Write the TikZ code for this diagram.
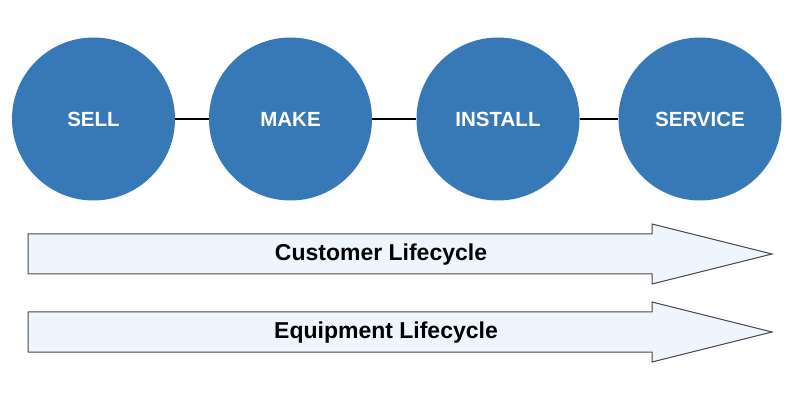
\documentclass[tikz,border=0pt]{standalone}
\usepackage{fontspec}
\setmainfont{Liberation Sans}
\usepackage{xcolor}
\usepackage{tikz}
\usetikzlibrary{calc}
\definecolor{bg}{HTML}{FFFFFF}
\definecolor{stage}{HTML}{3679B6}
\definecolor{band}{HTML}{EEF5FD}
\definecolor{edge}{HTML}{4A4A4A}
\definecolor{text}{HTML}{000000}
\tikzset{
  stagenode/.style={circle, fill=stage, draw=none, minimum size=163pt, inner sep=0pt,
    text=white, font=\fontsize{20.5}{24}\selectfont\bfseries},
  link/.style={draw=text, line width=1.5pt},
  band/.style={fill=band, draw=edge, line width=1pt, line join=miter},
  lab/.style={text=text, anchor=base, inner sep=0pt, font=\fontsize{23}{27}\selectfont\bfseries}
}
\begin{document}
\begin{tikzpicture}[x=1pt, y=-1pt]
  \useasboundingbox[fill=bg] (0,0) rectangle (800,411);
  % stages
  \node[stagenode] (sell) at (93.5,119) {SELL};
  \node[stagenode] (make) at (290.5,119) {MAKE};
  \node[stagenode] (install) at (498,119) {INSTALL};
  \node[stagenode] (service) at (700,119) {SERVICE};
  \draw[link] (sell) -- (make);
  \draw[link] (make) -- (install);
  \draw[link] (install) -- (service);
  % lifecycle arrows
  \def\xl{28}
  \def\xb{652}
  \def\xt{772}
  \draw[band] (\xl,234) -- (\xb,234) -- (\xb,224) -- (\xt,254) -- (\xb,284) -- (\xb,274) -- (\xl,274) -- cycle;
  \draw[band] (\xl,312) -- (\xb,312) -- (\xb,302) -- (\xt,332) -- (\xb,362) -- (\xb,352) -- (\xl,352) -- cycle;
  \node[lab] (cust) at (381,261) {Customer Lifecycle};
  \node[lab] (equip) at (386,338) {Equipment Lifecycle};
\end{tikzpicture}
\end{document}
